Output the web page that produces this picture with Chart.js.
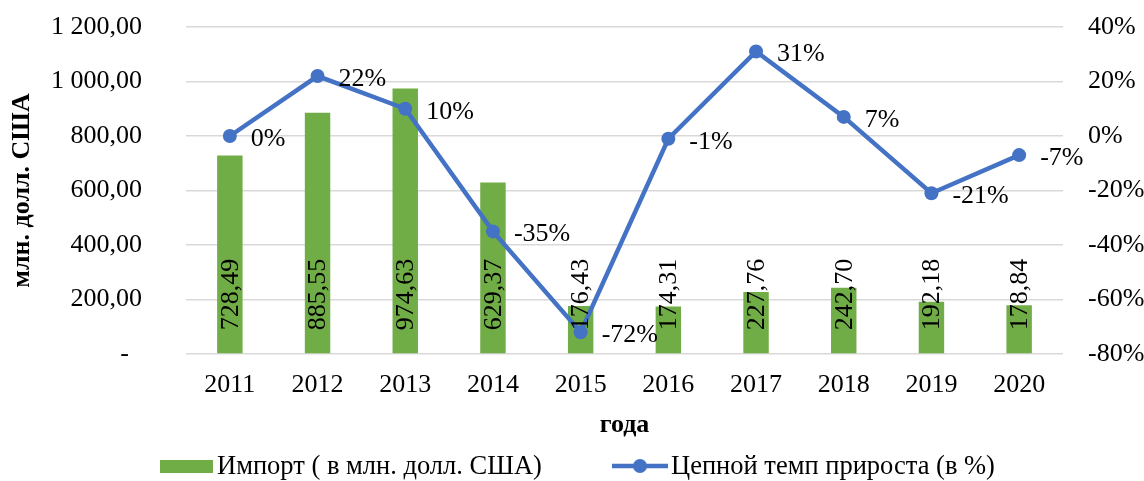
<!DOCTYPE html>
<html>
<head>
<meta charset="utf-8">
<script src="https://cdn.jsdelivr.net/npm/chart.js@4/dist/chart.umd.min.js"></script>
<style>
  html, body { margin: 0; padding: 0; background: #fff; }
  #wrap { width: 1144px; height: 481px; }
</style>
</head>
<body>
<div id="wrap"><canvas id="chart" width="1144" height="481"></canvas></div>
<script>
var years = ['2011', '2012', '2013', '2014', '2015', '2016', '2017', '2018', '2019', '2020'];
var importVals = [728.49, 885.55, 974.63, 629.37, 176.43, 174.31, 227.76, 242.70, 192.18, 178.84];
var growthVals = [0, 22, 10, -35, -72, -1, 31, 7, -21, -7];
var leftRange = [0, 1200, 200];
var rightRange = [-80, 40, 20];

var FONT = '"Liberation Serif", "Times New Roman", serif';
var GREEN = '#70AD47';
var BLUE = '#4472C4';

// 1200 -> "1 200,00", 0 -> "-"
var fmtNum = function(v) {
    if (v === 0) return '-\u00a0\u00a0';
    var parts = v.toFixed(2).split('.');
    parts[0] = parts[0].replace(/\B(?=(\d{3})+(?!\d))/g, ' ');
    return parts[0] + ',' + parts[1];
};

var labelsPlugin = {
    id: 'labels',
    afterDatasetsDraw: function(chart) {
        var ctx = chart.ctx;
        ctx.save();
        ctx.fillStyle = '#000';
        ctx.font = '26px ' + FONT;

        // bar values, rotated, inside base
        chart.getDatasetMeta(0).data.forEach(function(bar, i) {
            ctx.save();
            ctx.translate(bar.x + 1, bar.base - 23);
            ctx.rotate(-Math.PI / 2);
            ctx.textAlign = 'left';
            ctx.textBaseline = 'middle';
            ctx.fillText(fmtNum(importVals[i]), 0, 0);
            ctx.restore();
        });

        // line values, right of point
        chart.getDatasetMeta(1).data.forEach(function(p, i) {
            ctx.textAlign = 'left';
            ctx.textBaseline = 'middle';
            ctx.fillText(growthVals[i] + '%', p.x + 21, p.y + 3);
        });

        // legend
        var ly = 466;
        ctx.font = '26.5px ' + FONT;
        ctx.fillStyle = GREEN;
        ctx.fillRect(160, ly - 6, 53, 13);
        ctx.fillStyle = '#000';
        ctx.fillText(chart.data.datasets[0].label, 217, ly + 1);

        ctx.strokeStyle = BLUE;
        ctx.lineWidth = 4.5;
        ctx.beginPath();
        ctx.moveTo(612, ly);
        ctx.lineTo(668, ly);
        ctx.stroke();
        ctx.fillStyle = BLUE;
        ctx.beginPath();
        ctx.arc(640, ly, 7, 0, Math.PI * 2);
        ctx.fill();
        ctx.fillStyle = '#000';
        ctx.fillText(chart.data.datasets[1].label, 671, ly + 1);

        ctx.restore();
    }
};

new Chart(document.getElementById('chart'), {
    type: 'bar',
    data: {
        labels: years,
        datasets: [
            {
                type: 'bar',
                label: 'Импорт ( в млн. долл. США)',
                data: importVals,
                backgroundColor: GREEN,
                barPercentage: 0.29,
                categoryPercentage: 1,
                yAxisID: 'y',
                order: 1
            },
            {
                type: 'line',
                label: 'Цепной темп прироста (в %)',
                data: growthVals,
                borderColor: BLUE,
                backgroundColor: BLUE,
                borderWidth: 4.5,
                pointRadius: 7,
                pointBackgroundColor: BLUE,
                pointBorderWidth: 0,
                tension: 0,
                yAxisID: 'y1',
                order: 0
            }
        ]
    },
    options: {
        responsive: false,
        animation: false,
        layout: { padding: { top: 27, bottom: 40, left: 0, right: 0 } },
        plugins: {
            legend: { display: false },
            tooltip: { enabled: false }
        },
        scales: {
            x: {
                grid: { display: false, drawTicks: false },
                border: { display: false },
                ticks: { color: '#000', font: { family: FONT, size: 26 }, padding: 16, maxRotation: 0 },
                title: { display: true, text: 'года', color: '#000', font: { family: FONT, size: 26, weight: 'bold' }, padding: 0 },
                afterFit: function(s) { s.height = 87; s.paddingLeft = 0; s.paddingRight = 0; }
            },
            y: {
                position: 'left',
                min: leftRange[0],
                max: leftRange[1],
                ticks: {
                    stepSize: leftRange[2],
                    color: '#000',
                    font: { family: FONT, size: 26 },
                    padding: 44,
                    callback: function(v) { return fmtNum(v); }
                },
                grid: { color: '#D9D9D9', lineWidth: 1.5, drawTicks: false },
                border: { display: false },
                title: { display: true, text: 'млн. долл. США', color: '#000', font: { family: FONT, size: 26, weight: 'bold' }, padding: { top: 7, bottom: 0 } },
                afterFit: function(s) { s.width = 186; s.paddingTop = 0; s.paddingBottom = 0; }
            },
            y1: {
                position: 'right',
                min: rightRange[0],
                max: rightRange[1],
                ticks: {
                    stepSize: rightRange[2],
                    color: '#000',
                    font: { family: FONT, size: 26 },
                    padding: 25,
                    callback: function(v) { return v + '%'; }
                },
                grid: { display: false, drawTicks: false },
                border: { display: false },
                afterFit: function(s) { s.width = 81; s.paddingTop = 0; s.paddingBottom = 0; }
            }
        }
    },
    plugins: [labelsPlugin]
});
</script>
</body>
</html>
